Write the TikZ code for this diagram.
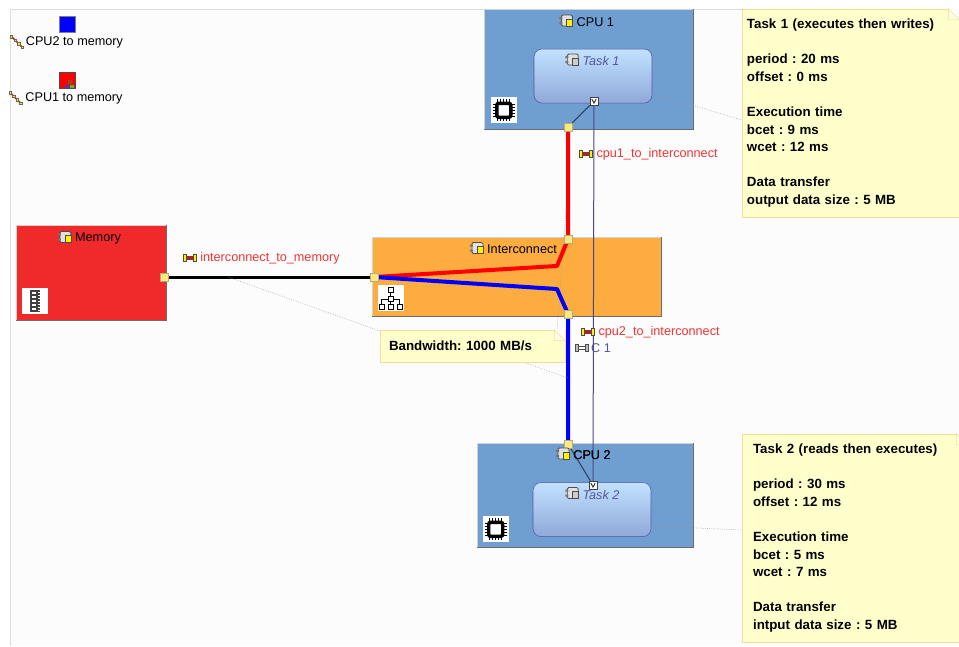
\documentclass[tikz,border=0pt]{standalone}
\usepackage{fontspec}
\setmainfont{Liberation Sans}
\usetikzlibrary{arrows,calc,positioning}
\definecolor{canvas}{HTML}{FCFCFC}
\definecolor{edgeline}{HTML}{DEDEDE}
\definecolor{cpublue}{HTML}{6F9ED0}
\definecolor{busorange}{HTML}{FDAD40}
\definecolor{memred}{HTML}{F0292B}
\definecolor{notefill}{HTML}{FFFFCC}
\definecolor{noteline}{HTML}{F6DC96}
\definecolor{portfill}{HTML}{FFE97F}
\definecolor{labelred}{HTML}{F03535}
\definecolor{taskline}{HTML}{5555A0}
\definecolor{tasktop}{HTML}{C2E2FF}
\definecolor{taskbottom}{HTML}{8FA8D8}
\tikzset{%
	unitbox/.style  = {draw=gray!35, rectangle, inner sep=0pt},
	cpubox/.style   = {unitbox, fill=cpublue, minimum width=156.75pt, minimum height=#1},
	taskbox/.style  = {draw=taskline, rectangle, rounded corners=6pt, top color=tasktop, bottom color=taskbottom, minimum width=88.5pt, minimum height=40.5pt},
	notebox/.style  = {draw=noteline, fill=notefill, rectangle, inner ysep=0pt, align=left, font=\bfseries\fontsize{10}{13.2}\selectfont},
	title/.style    = {font=\fontsize{9.5}{12}\selectfont, inner sep=0pt}, % Unit name
	tasktitle/.style= {title, text=taskline, font=\itshape\fontsize{9.5}{12}\selectfont},
	wirelabel/.style= {title, text=labelred},
	port/.style     = {draw=gray!70!yellow, fill=portfill, rectangle, inner sep=0pt, minimum size=6pt},
	taskport/.style = {draw=black!75, fill=white, rectangle, inner sep=0pt, minimum size=6pt},
	waypoint/.style = {coordinate},
	wire/.style     = {line width=#1, line join=round},
	flow/.style     = {draw=black!15!taskline, line width=.75pt},
	tie/.style      = {draw=black!40, line width=.4pt, densely dotted},
	rim/.style      = {draw=gray!85!black, line width=1pt},
}
\tikzset{%
	pics/compicon/.style = {code={
		\draw[draw=black!70, fill=black!12, rounded corners=1pt, line width=.6pt] (-5,-6) rectangle (6,5);
		\fill[black!55] (-7,-4) rectangle (-4,-2) (-7,1) rectangle (-4,3);
		\draw[black!70, fill=#1, line width=.5pt] (0,-2) rectangle (6,5);
	}},
	pics/chipicon/.style = {code={
		\fill[white] (-13,-13) rectangle (13,13);
		\foreach \k in {-6,-3,0,3,6} {
			\draw[line width=.5pt] (\k,-11) -- (\k,11) (-11,\k) -- (11,\k);
		}
		\draw[line width=2.6pt, fill=white, rounded corners=1.5pt] (-7,-7) rectangle (7,7);
	}},
	pics/busicon/.style = {code={
		\fill[white] (-13,-13) rectangle (13,13);
		\draw[line width=.8pt] (0,-7) -- (0,6) (-9,6) -- (-9,1) -- (9,1) -- (9,6);
		\foreach \k in {-9,0,9} {\draw[line width=.8pt, fill=white] (\k-2.5,6) rectangle (\k+2.5,11);}
		\draw[line width=.8pt, fill=white] (-2.5,-11) rectangle (2.5,-6);
		\draw[line width=.8pt, fill=white] (-2.5,-2) rectangle (2.5,3);
	}},
	pics/ramicon/.style = {code={
		\fill[white] (-13,-13) rectangle (13,13);
		\fill[black!75] (-5,-11) rectangle (5,11);
		\foreach \k in {-8,-4,0,4,8} {\fill[white] (-2.5,\k-1) rectangle (1,\k+1);}
		\foreach \k in {-9,-6,-3,0,3,6,9} {\fill[white] (3.5,\k-.5) rectangle (5,\k+.5);}
	}},
	pics/linkicon/.style = {code={
		\draw[black!70, fill=red, line width=.3pt] (-4,-1.5) rectangle (4,1.5);
		\draw[black!70, fill=yellow, line width=.4pt] (-6.5,-3.5) rectangle (-3.5,3.5) (3.5,-3.5) rectangle (6.5,3.5);
	}},
	pics/flowicon/.style = {code={
		\draw[black!70, fill=white, line width=.3pt] (-4,-1.5) rectangle (4,1.5);
		\draw[black!70, fill=black!25, line width=.4pt] (-6.5,-3.5) rectangle (-3.5,3.5) (3.5,-3.5) rectangle (6.5,3.5);
	}},
	pics/stepicon/.style = {code={
		\draw[red, line width=1.1pt] (-5,-5) -- (5,5);
		\foreach \k in {-5,-1.5,2,5.5} {\draw[black!60, fill=yellow, line width=.2pt] (\k-1.5,\k-1.5) rectangle (\k+1,\k+1);}
	}},
}
\newcommand{\notefold}[1]{%
	\fill[canvas] ($(#1.north east)+(-11,0)$) -- ($(#1.north east)+(0,0)$) -- ($(#1.north east)+(0,11)$) -- cycle;
	\draw[noteline, fill=notefill!70!white] ($(#1.north east)+(-11,0)$) -- ($(#1.north east)+(-11,11)$) -- ($(#1.north east)+(0,11)$) -- cycle;
}
\begin{document}
\frenchspacing
\begin{tikzpicture}[x=.75pt,y=-.75pt,node distance=50pt]
	\useasboundingbox (0,0) rectangle (959,646);
	\clip (0,0) rectangle (959,646);
	\fill[canvas] (10,9) rectangle (959,646);
	\draw[edgeline] (10,646) -- (10,9) -- (959,9);

	% units
	\node [unitbox, fill=memred, minimum width=112.5pt, minimum height=71.25pt] (mem) at (91,272.5) {};
	\node [unitbox, fill=busorange, minimum width=216.75pt, minimum height=59.25pt] (inter) [right of=mem,node distance=319.15pt,yshift=-3pt] {};
	\node [cpubox=90pt] (cpuone) [right of=inter,node distance=54pt,yshift=155.6pt] {};
	\node [cpubox=78pt, minimum width=162pt] (cputwo) [right of=inter,node distance=51.35pt,yshift=-163.9pt] {};
	\foreach \n in {mem,inter,cpuone,cputwo} {
		\draw[rim] (\n.north east) -- (\n.south east) -- (\n.south west);
	}
	\node [taskbox] (taskone) [right of=cpuone,node distance=3.35pt,yshift=-5.25pt] {};
	\node [taskbox] (tasktwo) [right of=cputwo,node distance=5.25pt,yshift=-10.9pt] {};

	% unit names
	\node [title] (memname) [right of=mem,node distance=5.25pt,yshift=25.5pt] {Memory};
	\node [title] (intername) [right of=inter,node distance=4.15pt,yshift=20.25pt] {Interconnect};
	\node [title] (cpuonename) [right of=cpuone,node distance=5.1pt,yshift=35.25pt] {CPU 1};
	\node [title] (cputwoname) [right of=cputwo,node distance=5.25pt,yshift=30pt] {CPU 2};
	\node [tasktitle] (taskonename) [right of=taskone,node distance=6pt,yshift=11.25pt] {Task 1};
	\node [tasktitle] (tasktwoname) [right of=tasktwo,node distance=6.75pt,yshift=11.25pt] {Task 2};

	% ties of the notes
	\coordinate (tiemem) at (228,277);
	\coordinate (tieone) at (568,183);
	\coordinate (tietwo) at (568,378);
	\draw[tie] (tieone) -- (557,331);

	% ports
	\node [port] (memout) [right of=mem,node distance=54.75pt,yshift=-3.4pt] {};
	\node [port] (interleft) [left of=inter,node distance=106.5pt,yshift=-.4pt] {};
	\node [port] (intertop) [right of=inter,node distance=38.65pt,yshift=28.1pt] {};
	\node [port] (interbot) [right of=inter,node distance=38.65pt,yshift=-28.1pt] {};
	\node [port] (cpuoneport) [left of=cpuone,node distance=15.35pt,yshift=-43.5pt] {};
	\node [port] (cputwoport) [left of=cputwo,node distance=12.75pt,yshift=38.25pt] {};
	\node [taskport] (taskoneport) [right of=taskone,node distance=.75pt,yshift=-18.75pt] {};
	\node [taskport] (tasktwoport) [right of=tasktwo,node distance=.75pt,yshift=18.4pt] {};
	\node [waypoint] (wpred) [right of=inter,node distance=30.35pt,yshift=7.9pt] {};
	\node [waypoint] (wpblue) [right of=inter,node distance=30.35pt,yshift=-9.4pt] {};

	% wires
	\draw[wire=2.2pt] (memout) -- (interleft);
	\draw[wire=3pt, red] (cpuoneport) -- (intertop.center) -- (wpred) -- (interleft);
	\draw[wire=3pt, blue] (cputwoport) -- (interbot.center) -- (wpblue) -- (interleft);
	\draw[flow] (taskoneport) -- (tasktwoport);
	\draw[flow, draw=black!60!cpublue] (taskoneport) -- (cpuoneport);
	\draw[flow, draw=black!60!cpublue] (tasktwoport) -- (cputwoport);
	\foreach \p in {memout,interleft,intertop,interbot,cpuoneport,cputwoport} {
		\node [port] at (\p) {};
	}
	\foreach \p in {taskoneport,tasktwoport} {
		\draw[black!80, line width=.7pt] ($(\p)+(-2.2,-2)$) -- ($(\p)+(0,2)$) -- ($(\p)+(2.2,-2)$);
	}
	\node [title] at (cputwoname) {CPU 2};

	% icons
	\path (memname.west) ++(-10,-1) pic {compicon=yellow};
	\path (intername.west) ++(-10,-1) pic {compicon=yellow};
	\path (cpuonename.west) ++(-10,-1) pic {compicon=yellow};
	\path (cputwoname.west) ++(-10,-1) pic {compicon=yellow};
	\path (taskonename.west) ++(-10,-1) pic {compicon=black!20};
	\path (tasktwoname.west) ++(-10,-1) pic {compicon=black!20};
	\path (cpuone.south west) ++(20,-19) pic {chipicon};
	\path (cputwo.south west) ++(19,-18) pic {chipicon};
	\path (inter.south west) ++(19,-18) pic {busicon};
	\path (mem.south west) ++(19,-19) pic {ramicon};

	% wire labels
	\node [wirelabel] (cpuonelabel) [right of=cpuoneport,node distance=66.75pt,yshift=-20.6pt] {cpu1\_to\_interconnect};
	\node [wirelabel] (cputwolabel) [right of=interbot,node distance=68.25pt,yshift=-13.9pt] {cpu2\_to\_interconnect};
	\node [wirelabel] (memlabel) [right of=memout,node distance=79.5pt,yshift=13.9pt] {interconnect\_to\_memory};
	\node [title, text=taskline] (flowlabel) [right of=interbot,node distance=24.75pt,yshift=-25.5pt] {C 1};
	\path (cpuonelabel.west) ++(-10,-1) pic {linkicon};
	\path (cputwolabel.west) ++(-10,-1) pic {linkicon};
	\path (memlabel.west) ++(-10,-1) pic {linkicon};
	\path (flowlabel.west) ++(-9,0) pic {flowicon};

	% legend
	\node [draw=black!50, fill=blue, minimum size=12pt, inner sep=0pt] (blueswatch) at (67,24) {};
	\node [draw=black!70, fill=red, minimum size=12pt, inner sep=0pt] (redswatch) [below of=blueswatch,node distance=42.4pt] {};
	\node [title] (bluelegend) [below of=blueswatch,node distance=14pt,xshift=5.6pt] {CPU2 to memory};
	\node [title] (redlegend) [below of=redswatch,node distance=13.6pt,xshift=5.25pt] {CPU1 to memory};
	\path (bluelegend.west) ++(-9,-1) pic {stepicon};
	\path (redlegend.west) ++(-10,-1) pic {stepicon};
	\fill[black!40!orange] ($(redswatch)+(1,-1)$) rectangle ++(4,4);
	\fill[blue!50!gray] ($(redswatch)+(-2,4)$) rectangle ++(4,3);
	\fill[green!50!gray] ($(redswatch)+(3,4)$) rectangle ++(4,3);

	% notes
	\node [notebox, minimum width=162.75pt, minimum height=156pt, inner xsep=3.75pt, text width=155.25pt] (noteone) [right of=taskone,node distance=193.1pt,yshift=-27.75pt] {Task 1 (executes then writes)\\[\baselineskip]period : 20 ms\\offset : 0 ms\\[\baselineskip]Execution time\\bcet : 9 ms\\wcet : 12 ms\\[\baselineskip]Data transfer\\output data size : 5 MB};
	\node [notebox, minimum width=168.75pt, minimum height=156pt, inner xsep=8.25pt, text width=152.25pt] (notetwo) [right of=tasktwo,node distance=196.9pt,yshift=-21.4pt] {Task 2 (reads then executes)\\[\baselineskip]period : 30 ms\\offset : 12 ms\\[\baselineskip]Execution time\\bcet : 5 ms\\wcet : 7 ms\\[\baselineskip]Data transfer\\intput data size : 5 MB};
	\draw[tie] (taskone.east |- 0,93) -- (noteone.west |- 0,120);
	\draw[tie] (tasktwo.east |- 0,526) -- (notetwo.west |- 0,530);
	\draw[tie] (tiemem) -- (380,331);
	\draw[tie] (523,362) -- (tietwo);
	\node [notebox, minimum width=138.75pt, minimum height=24pt, inner xsep=6.75pt, text width=125.25pt] (notebus) [below of=inter,node distance=52.1pt,xshift=-33pt] {Bandwidth: 1000 MB/s};
	\foreach \n in {noteone,notetwo,notebus} {
		\notefold{\n}
	}
\end{tikzpicture}
\end{document}
